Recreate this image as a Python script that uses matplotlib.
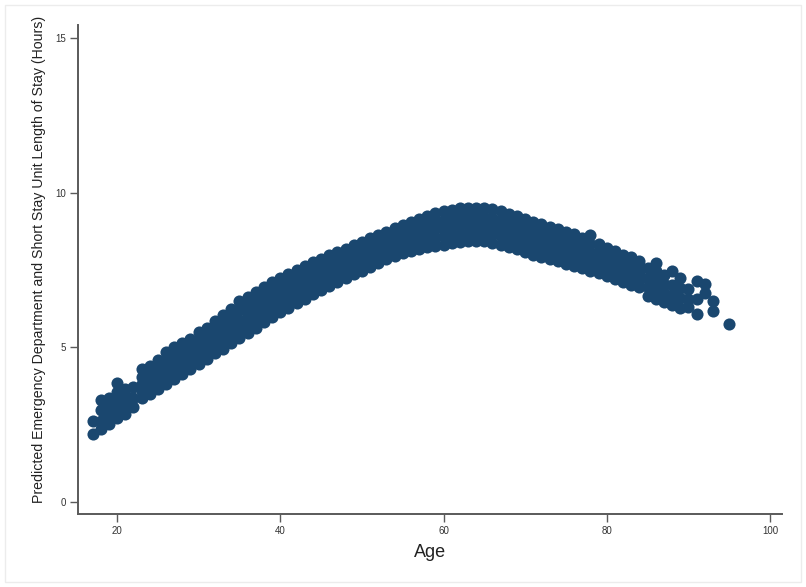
import matplotlib
matplotlib.use("Agg")
import matplotlib.pyplot as plt
from matplotlib.patches import Rectangle

# Predicted ED + short stay unit length of stay (hours) by patient age
predicted = {
    17: [2.20, 2.62],
    18: [2.35, 2.60, 2.95, 3.30],
    19: [2.52, 2.80, 3.10, 3.35],
    20: [2.70, 2.95, 3.25, 3.55, 3.85],
    21: [2.85, 3.15, 3.45, 3.65],
    22: [3.05, 3.35, 3.70],
    23: [3.35, 3.58, 3.82, 4.05, 4.28],
    24: [3.50, 3.73, 3.95, 4.18, 4.40],
    25: [3.65, 3.88, 4.12, 4.35, 4.58],
    26: [3.82, 4.08, 4.34, 4.59, 4.85],
    27: [3.98, 4.24, 4.49, 4.75, 5.00],
    28: [4.13, 4.38, 4.63, 4.87, 5.12],
    29: [4.30, 4.55, 4.79, 5.04, 5.28],
    30: [4.45, 4.71, 4.97, 5.22, 5.48],
    31: [4.62, 4.87, 5.12, 5.37, 5.62],
    32: [4.80, 5.06, 5.33, 5.59, 5.85],
    33: [4.95, 5.23, 5.50, 5.78, 6.05],
    34: [5.12, 5.40, 5.69, 5.97, 6.25],
    35: [5.30, 5.60, 5.89, 6.19, 6.48],
    36: [5.47, 5.76, 6.05, 6.34, 6.63],
    37: [5.63, 5.92, 6.22, 6.51, 6.80],
    38: [5.80, 6.09, 6.38, 6.66, 6.95],
    39: [5.97, 6.25, 6.54, 6.82, 7.10],
    40: [6.13, 6.41, 6.69, 6.97, 7.25],
    41: [6.28, 6.56, 6.83, 7.11, 7.38],
    42: [6.43, 6.70, 6.97, 7.23, 7.50],
    43: [6.57, 6.84, 7.10, 7.37, 7.63],
    44: [6.72, 6.98, 7.24, 7.49, 7.75],
    45: [6.85, 7.10, 7.36, 7.61, 7.86],
    46: [6.98, 7.23, 7.48, 7.72, 7.97],
    47: [7.10, 7.35, 7.59, 7.84, 8.08],
    48: [7.23, 7.47, 7.71, 7.95, 8.19],
    49: [7.36, 7.60, 7.83, 8.07, 8.30],
    50: [7.48, 7.71, 7.95, 8.18, 8.41],
    51: [7.60, 7.83, 8.06, 8.29, 8.52],
    52: [7.72, 7.95, 8.18, 8.40, 8.63],
    53: [7.84, 8.07, 8.29, 8.52, 8.74],
    54: [7.95, 8.18, 8.40, 8.63, 8.85],
    55: [8.04, 8.27, 8.50, 8.73, 8.96],
    56: [8.11, 8.35, 8.59, 8.82, 9.06],
    57: [8.18, 8.43, 8.67, 8.92, 9.16],
    58: [8.23, 8.49, 8.74, 9.00, 9.25],
    59: [8.28, 8.54, 8.81, 9.07, 9.33],
    60: [8.32, 8.59, 8.86, 9.13, 9.40],
    61: [8.37, 8.64, 8.91, 9.18, 9.45],
    62: [8.41, 8.68, 8.95, 9.22, 9.49],
    63: [8.44, 8.71, 8.98, 9.25, 9.52],
    64: [8.45, 8.72, 8.99, 9.25, 9.52],
    65: [8.43, 8.70, 8.97, 9.23, 9.50],
    66: [8.38, 8.65, 8.92, 9.19, 9.46],
    67: [8.32, 8.59, 8.86, 9.13, 9.40],
    68: [8.25, 8.52, 8.79, 9.05, 9.32],
    69: [8.17, 8.44, 8.71, 8.97, 9.24],
    70: [8.08, 8.35, 8.62, 8.88, 9.15],
    71: [8.00, 8.27, 8.53, 8.80, 9.06],
    72: [7.92, 8.19, 8.45, 8.72, 8.98],
    73: [7.85, 8.11, 8.38, 8.64, 8.90],
    74: [7.78, 8.04, 8.30, 8.56, 8.82],
    75: [7.70, 7.96, 8.22, 8.48, 8.74],
    76: [7.62, 7.88, 8.14, 8.39, 8.65],
    77: [7.55, 7.80, 8.05, 8.30, 8.55],
    78: [7.47, 7.76, 8.05, 8.33, 8.62],
    79: [7.40, 7.64, 7.88, 8.11, 8.35],
    80: [7.30, 7.53, 7.76, 7.99, 8.22],
    81: [7.22, 7.45, 7.67, 7.90, 8.12],
    82: [7.12, 7.34, 7.56, 7.78, 8.00],
    83: [7.02, 7.25, 7.47, 7.70, 7.92],
    84: [6.95, 7.16, 7.38, 7.59, 7.80],
    85: [6.66, 6.95, 7.25, 7.55],
    86: [6.55, 6.85, 7.15, 7.45, 7.74],
    87: [6.45, 6.75, 7.05, 7.35],
    88: [6.38, 6.70, 7.00, 7.47],
    89: [6.28, 6.60, 6.90, 7.25],
    90: [6.30, 6.55, 6.88],
    91: [6.07, 6.55, 7.15],
    92: [6.77, 7.04],
    93: [6.17, 6.50],
    95: [5.74],
}

x_ticks = [20, 40, 60, 80, 100]
y_ticks = [0, 5, 10, 15]
x_title = "Age"
y_title = "Predicted Emergency Department and Short Stay Unit Length of Stay (Hours)"

ages = [a for a, vals in predicted.items() for _ in vals]
values = [v for vals in predicted.values() for v in vals]

plt.rcParams["font.family"] = ["Liberation Sans", "DejaVu Sans"]

fig = plt.figure(figsize=(8.06, 5.87), dpi=100)
fig.patch.set_facecolor("white")
fig.patches.append(Rectangle((0.006, 0.008), 0.988, 0.983, transform=fig.transFigure,
                             fill=False, edgecolor="#ececec", linewidth=1.0))

ax = fig.add_axes([0.0968, 0.1244, 0.8734, 0.8330])
navy = "#1a476f"
ax.scatter(ages, values, s=76, color=navy, linewidths=0, zorder=3)

ax.set_xlim(15.22, 101.47)
ax.set_ylim(-0.40, 15.43)
ax.set_xticks(x_ticks)
ax.set_yticks(y_ticks)
ax.set_xticklabels([str(t) for t in x_ticks])
ax.set_yticklabels([str(t) for t in y_ticks])

for side in ("top", "right"):
    ax.spines[side].set_visible(False)
for side in ("left", "bottom"):
    ax.spines[side].set_color("#5a5a5a")
    ax.spines[side].set_linewidth(1.4)

ax.tick_params(axis="both", direction="out", length=5.5, width=1.0, color="#5a5a5a",
               labelsize=7, labelcolor="#333333", pad=3)

ax.set_xlabel(x_title, fontsize=13, color="#222222", labelpad=6)
ax.set_ylabel(y_title, fontsize=10.2, color="#222222", va="center")
ax.yaxis.set_label_coords(-0.0555, 0.52)

fig.savefig("out.png", dpi=100, facecolor="white")
